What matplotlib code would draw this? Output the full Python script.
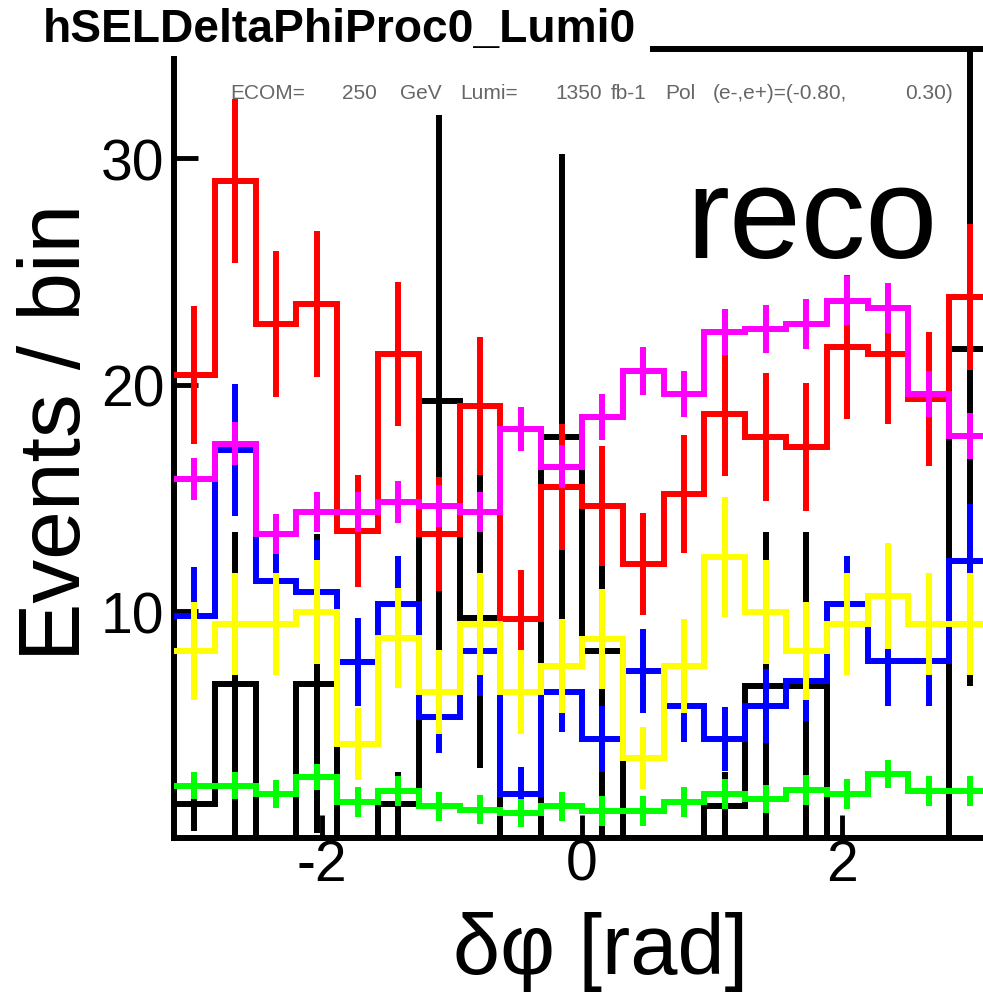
import numpy as np
import matplotlib
matplotlib.use("Agg")
import matplotlib.pyplot as plt
from matplotlib.patches import Rectangle

plt.rcParams['font.family'] = ['Liberation Sans', 'DejaVu Sans']
plt.rcParams['axes.unicode_minus'] = False

# 20 bins in delta phi, -pi .. pi
n_bins = 20
edges = np.linspace(-np.pi, np.pi, n_bins + 1)
centers = 0.5 * (edges[1:] + edges[:-1])

black_vals = [1.5, 6.8, 0, 6.8, 0, 1.5, 19.3, 9.7, 0, 17.7, 8.26, 0, 0, 1.41, 6.7, 6.7, 0, 0, 0, 21.6]
black_errs = [1.2, 6.7, 0, 6.6, 0, 1.4, 12.6, 6.6, 0, 12.5, 8.2, 0, 0, 1.5, 6.8, 6.8, 0, 0, 0, 14.9]

red_vals = [20.44, 29.0, 22.69, 23.58, 13.55, 21.37, 13.42, 19.07, 9.67, 15.5,
            14.66, 12.1, 15.19, 18.72, 17.7, 17.26, 21.68, 21.37, 19.38, 23.89]
red_errs = [3.05, 3.62, 3.22, 3.22, 2.47, 3.18, 2.52, 3.05, 2.16, 2.78,
            2.65, 2.25, 2.6, 2.74, 2.83, 2.83, 3.18, 3.09, 2.96, 3.22]

blue_vals = [9.8, 17.13, 11.35, 10.86, 7.77, 10.33, 5.34, 8.26, 1.94, 6.45,
             4.37, 7.37, 5.83, 4.37, 5.83, 6.93, 10.33, 7.81, 7.81, 12.23]
blue_errs = [2.16, 2.91, 2.3, 2.3, 1.94, 2.12, 1.59, 1.99, 1.19, 1.77,
             1.46, 1.85, 1.59, 1.41, 1.63, 1.77, 2.12, 1.99, 1.99, 2.52]

yellow_vals = [8.26, 9.45, 9.45, 9.98, 4.15, 8.83, 6.45, 9.45, 6.45, 7.59,
               8.79, 3.53, 7.59, 12.41, 9.98, 8.26, 9.45, 10.68, 9.45, 9.45]
yellow_errs = [2.16, 2.25, 2.25, 2.3, 1.59, 2.21, 1.85, 2.25, 1.85, 2.08,
               2.21, 1.37, 2.08, 2.65, 2.3, 2.16, 2.25, 2.34, 2.25, 2.25]

magenta_vals = [15.85, 17.4, 13.42, 14.39, 14.39, 14.83, 14.66, 14.39, 18.06, 16.38,
                18.59, 20.62, 19.6, 22.34, 22.47, 22.69, 23.71, 23.4, 19.6, 17.75]
magenta_errs = [0.92, 0.95, 0.88, 0.9, 0.9, 0.92, 0.92, 0.9, 0.98, 0.95,
                1.0, 1.05, 1.0, 1.02, 1.05, 1.1, 1.08, 1.12, 1.0, 1.0]

green_vals = [2.3, 2.3, 1.94, 2.69, 1.59, 2.08, 1.41, 1.24, 1.1, 1.41,
              1.19, 1.19, 1.59, 1.94, 1.72, 2.12, 1.94, 2.83, 2.08, 2.08]
green_errs = [0.6, 0.6, 0.62, 0.58, 0.66, 0.66, 0.64, 0.64, 0.62, 0.64,
              0.66, 0.66, 0.66, 0.66, 0.62, 0.66, 0.66, 0.62, 0.66, 0.66]

series = [
    (black_vals, black_errs, 'black'),
    (red_vals, red_errs, '#ff0000'),
    (blue_vals, blue_errs, '#0000ff'),
    (yellow_vals, yellow_errs, '#ffff00'),
    (magenta_vals, magenta_errs, '#ff00ff'),
    (green_vals, green_errs, '#00ff00'),
]

W, H = 983, 995
fig = plt.figure(figsize=(W / 100, H / 100), dpi=100)
# frame runs a bit past the right edge of the canvas
ax = fig.add_axes([174 / W, 1 - 839 / H, 816 / W, 789 / H])

lw = 4.3
for k, (vals, errs, col) in enumerate(series):
    v = np.array(vals)
    e = np.array(errs)
    ax.stairs(v, edges, baseline=None, color=col, lw=lw, zorder=3 + k)
    m = e > 0
    ax.errorbar(centers[m], v[m], yerr=e[m], fmt='none', ecolor=col,
                elinewidth=lw, capsize=0, zorder=3 + k)

ax.set_xlim(-np.pi, np.pi)
ax.set_ylim(0, 34.83)
ax.set_xticks([-2, 0, 2])
ax.set_xticklabels(['-2', '0', '2'])
ax.set_yticks([10, 20, 30])
ax.set_yticklabels(['10', '20', '30'])
ax.tick_params(axis='both', direction='in', width=3.5, labelsize=41)
ax.tick_params(axis='y', length=17.5, pad=7)
ax.tick_params(axis='x', length=16.5, pad=0)
for s in ax.spines.values():
    s.set_linewidth(4.3)

# title box sits over the top of the frame
fig.add_artist(Rectangle((0, 1 - 57 / H), 650 / W, 57 / H, transform=fig.transFigure,
                         facecolor='white', edgecolor='none', zorder=10))
fig.text(43 / W, 1 - 42 / H, 'hSELDeltaPhiProc0_Lumi0', fontsize=33.2,
         fontweight='bold', ha='left', va='baseline', zorder=11)

info_words = ['ECOM=', '250', 'GeV', 'Lumi=', '1350', 'fb-1', 'Pol', '(e-,e+)=(-0.80,', '0.30)']
info_x = [230, 342, 400, 460, 555, 611, 665, 713, 905]
for word, x in zip(info_words, info_x):
    fig.text(x / W, 1 - 99 / H, word, fontsize=15, color='#666666',
             ha='left', va='baseline', zorder=11)

fig.text(686 / W, 1 - 258 / H, 'reco', fontsize=93, ha='left', va='baseline', zorder=11)

fig.text(80 / W, 1 - 432 / H, 'Events / bin', fontsize=63, rotation=90,
         rotation_mode='anchor', ha='center', va='baseline')
fig.text(601 / W, 1 - 974 / H, 'δφ [rad]', fontsize=61, ha='center', va='baseline')

fig.savefig('out.png', dpi=100)
